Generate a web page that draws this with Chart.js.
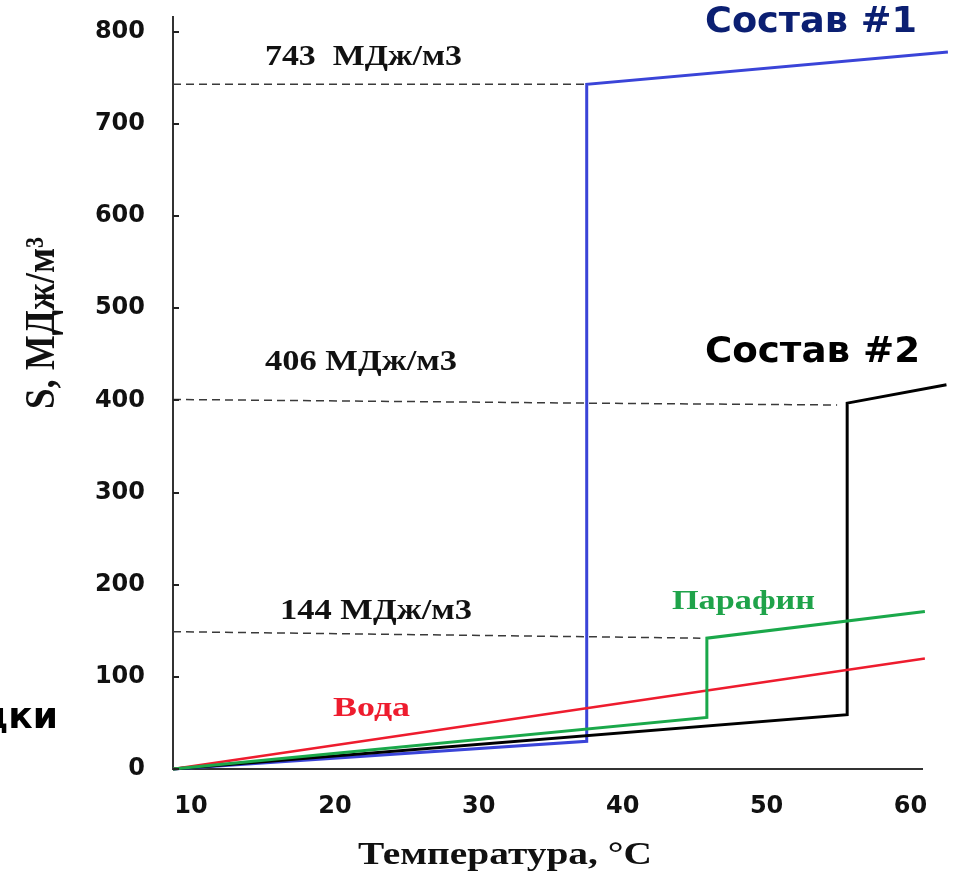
<!DOCTYPE html>
<html lang="ru">
<head>
<meta charset="utf-8">
<title>S, МДж/м3 — Температура, °C</title>
<script src="https://cdn.jsdelivr.net/npm/chart.js@4.4.1/dist/chart.umd.min.js"></script>
<style>
  html, body { margin: 0; padding: 0; background: #fff; }
  canvas { display: block; }
</style>
</head>
<body>
<canvas id="chart" width="960" height="876"></canvas>
<script>
// Данные: температура (°C) и S (МДж/м3)
const tempSostav1 = [8.75, 37.5, 37.5, 62.6];
const sSostav1 = [0, 30, 743, 778];

const tempSostav2 = [8.75, 55.6, 55.6, 62.5];
const sSostav2 = [0, 59, 397, 417];

const tempParafin = [8.75, 45.85, 45.85, 61];
const sParafin = [0, 56, 142, 171];

const tempVoda = [8.75, 61];
const sVoda = [0, 120];

// пунктирные уровни 743 / 406 / 144
const tempRef743 = [8.75, 37.5];
const sRef743 = [743, 743];
const tempRef406 = [8.75, 37.5, 54.9];
const sRef406 = [401, 397, 395];
const tempRef144 = [8.75, 45.4];
const sRef144 = [149, 142];

const xTicks = [10, 20, 30, 40, 50, 60];
const yTicks = [0, 100, 200, 300, 400, 500, 600, 700, 800];

function points(xs, ys) {
  return xs.map((x, i) => ({ x: x, y: ys[i] }));
}

function curve(xs, ys, color, width) {
  return {
    data: points(xs, ys),
    borderColor: color,
    borderWidth: width,
    pointRadius: 0,
    tension: 0,
    clip: false,
  };
}

function dashed(xs, ys) {
  return {
    data: points(xs, ys),
    borderColor: "#3a3a3a",
    borderWidth: 1.5,
    borderDash: [8, 5],
    pointRadius: 0,
    tension: 0,
  };
}

// подписи на рисунке (пиксели)
const serif = (size) => `bold ${size}px "Liberation Serif", "Times New Roman", serif`;
const sans = (size) => `bold ${size}px "DejaVu Sans", Verdana, sans-serif`;

const textItems = [
  { text: "743  МДж/м3", x: 265, y: 58, width: 197, font: serif(29), color: "#111" },
  { text: "406 МДж/м3", x: 265, y: 363, width: 192, font: serif(29), color: "#111" },
  { text: "144 МДж/м3", x: 280, y: 612, width: 192, font: serif(29), color: "#111" },
  { text: "Вода", x: 333, y: 709, width: 77, font: serif(27), color: "#ee1c2e" },
  { text: "Парафин", x: 672, y: 602, width: 143, font: serif(28), color: "#1fa34a" },
  { text: "Состав #1", x: 705, y: 23, width: 212, font: sans(36), color: "#0b1f72" },
  { text: "Состав #2", x: 705, y: 353, width: 215, font: sans(36), color: "#000" },
  { text: "дки", x: 58, y: 719, align: "right", font: sans(36), color: "#000" },
  { text: "S, МДж/м³", x: 43, y: 323, width: 172, sy: 1.15, rotate: -Math.PI / 2, align: "center", font: serif(36), color: "#111" },
  { text: "Температура, °C", x: 358, y: 856, width: 294, font: serif(32), color: "#111" },
];

function drawText(ctx, t) {
  ctx.save();
  ctx.font = t.font;
  ctx.fillStyle = t.color;
  ctx.textBaseline = "middle";
  ctx.textAlign = "left";
  const w = ctx.measureText(t.text).width;
  const sx = t.width ? t.width / w : 1;
  ctx.translate(t.x, t.y);
  if (t.rotate) ctx.rotate(t.rotate);
  ctx.scale(sx, t.sy || 1);
  let x0 = 0;
  if (t.align === "right") x0 = -w;
  if (t.align === "center") x0 = -w / 2;
  ctx.fillText(t.text, x0, 0);
  ctx.restore();
}

const annotations = {
  id: "annotations",
  afterDraw(chart) {
    const ctx = chart.ctx;
    const yScale = chart.scales.y;
    const left = chart.chartArea.left;

    // короткие внутренние засечки на оси Y
    ctx.save();
    ctx.strokeStyle = "#222";
    ctx.lineWidth = 2;
    yTicks.forEach((v) => {
      const py = Math.round(yScale.getPixelForValue(v));
      ctx.beginPath();
      ctx.moveTo(left, py);
      ctx.lineTo(left + 6, py);
      ctx.stroke();
    });
    ctx.restore();

    textItems.forEach((t) => drawText(ctx, t));
  },
};

new Chart(document.getElementById("chart"), {
  type: "line",
  data: {
    datasets: [
      curve(tempParafin, sParafin, "#1aa84a", 3),
      curve(tempVoda, sVoda, "#ee1c2e", 2.6),
      curve(tempSostav2, sSostav2, "#000000", 3),
      curve(tempSostav1, sSostav1, "#3a44d8", 3),
      dashed(tempRef743, sRef743),
      dashed(tempRef406, sRef406),
      dashed(tempRef144, sRef144),
    ],
  },
  options: {
    responsive: false,
    animation: false,
    layout: { padding: { top: 17, right: 38, left: 0, bottom: 0 } },
    scales: {
      x: {
        type: "linear",
        min: 8.75,
        max: 60.8,
        afterBuildTicks: (axis) => {
          axis.ticks = xTicks.map((v) => ({ value: v }));
        },
        afterFit: (scale) => {
          scale.height = 107;
        },
        grid: { display: false, drawTicks: false },
        border: { display: true, color: "#333", width: 2 },
        ticks: {
          padding: 23,
          color: "#111",
          font: { family: "DejaVu Sans", size: 24, weight: "bold" },
        },
      },
      y: {
        type: "linear",
        min: 0,
        max: 816,
        afterBuildTicks: (axis) => {
          axis.ticks = yTicks.map((v) => ({ value: v }));
        },
        afterFit: (scale) => {
          scale.width = 173;
          // ось в оригинале уходит выше метки 800
          scale.paddingTop = 0;
          scale.paddingBottom = 0;
        },
        grid: { display: false, drawTicks: false },
        border: { display: true, color: "#333", width: 2 },
        ticks: {
          padding: 28,
          color: "#111",
          font: { family: "DejaVu Sans", size: 24, weight: "bold" },
        },
      },
    },
    plugins: {
      legend: { display: false },
      tooltip: { enabled: false },
    },
  },
  plugins: [annotations],
});
</script>
</body>
</html>
